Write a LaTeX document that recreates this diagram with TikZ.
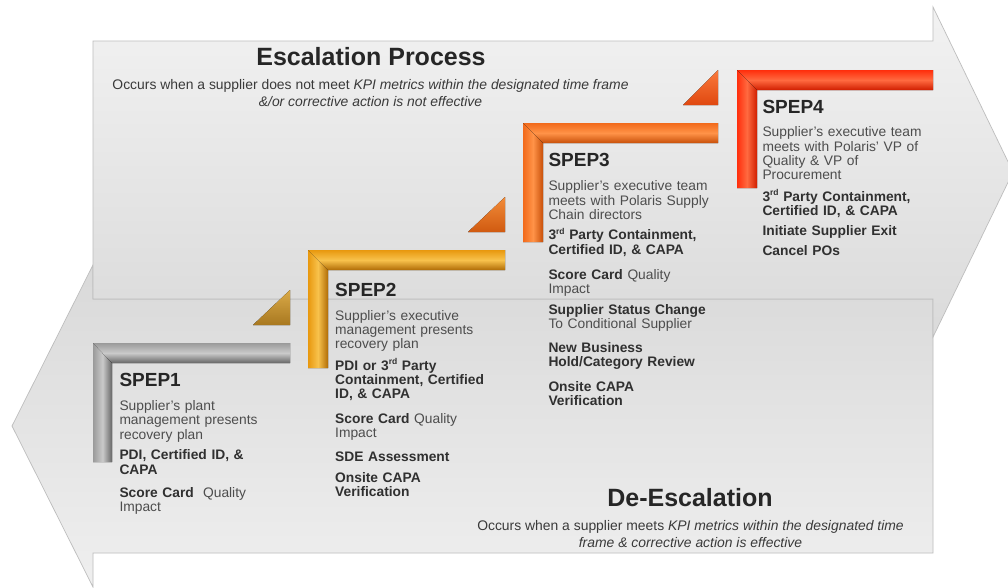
\documentclass[tikz,border=0pt]{standalone}
\usepackage{fontspec}
\setmainfont{Liberation Sans}
\definecolor{titletxt}{HTML}{262626}
\definecolor{subtxt}{HTML}{3A3A3A}
\definecolor{bodytxt}{HTML}{4D4D4D}
\definecolor{boldtxt}{HTML}{303030}
\definecolor{uptop}{HTML}{F2F2F2}
\definecolor{upbot}{HTML}{DADADA}
\definecolor{lowtop}{HTML}{D9D9D9}
\definecolor{lowbot}{HTML}{EFEFEF}
\definecolor{edge}{HTML}{BDBDBD}
\definecolor{gmain}{HTML}{9A9A9A}
\definecolor{glight}{HTML}{CACACA}
\definecolor{gdark}{HTML}{666666}
\definecolor{ymain}{HTML}{E8980E}
\definecolor{ylight}{HTML}{F8C24C}
\definecolor{ydark}{HTML}{B06C06}
\definecolor{omain}{HTML}{F26A1B}
\definecolor{olight}{HTML}{FF9348}
\definecolor{odark}{HTML}{C8500A}
\definecolor{rmain}{HTML}{FF2E0C}
\definecolor{rlight}{HTML}{FF6A40}
\definecolor{rdark}{HTML}{D01E00}
\definecolor{tonetop}{HTML}{DAAA48}
\definecolor{tonebot}{HTML}{A87820}
\definecolor{ttwotop}{HTML}{F28C3A}
\definecolor{ttwobot}{HTML}{D05A10}
\definecolor{tthrtop}{HTML}{FA7A3C}
\definecolor{tthrbot}{HTML}{E04810}
\newcommand\bb[1]{{\bfseries\color{boldtxt}#1}}
\newcommand\steptitle[1]{{\fontsize{19}{20}\selectfont\bfseries\color{titletxt}#1}}
\newcommand\ord[1]{\raisebox{0.42em}{\fontsize{8.5}{9}\selectfont #1}}
\begin{document}
\begin{tikzpicture}[x=1pt,y=-1pt,
  arrowbg/.style={draw=edge, line width=0.7pt},
  hbar/.style n args={3}{top color=#1, bottom color=#3, middle color=#2},
  vbar/.style n args={3}{left color=#1, right color=#3, middle color=#2},
  stepbody/.style={anchor=north west, inner sep=0pt, align=left, text width=220pt,
    font=\fontsize{13.8}{14.3}\selectfont, text=bodytxt},
  bigtitle/.style={anchor=base, inner sep=0pt, font=\fontsize{25}{30}\selectfont\bfseries, text=titletxt},
  subtitle/.style={anchor=north, inner sep=0pt, align=center, font=\fontsize{13.9}{16.7}\selectfont, text=subtxt}
]
\useasboundingbox (0,0) rectangle (1008,587);
\fill[white] (0,0) rectangle (1008,587);
\clip (0,0) rectangle (1008,587);

% lower (de-escalation) arrow
\draw[arrowbg, top color=lowtop, bottom color=lowbot]
  (93,299) -- (933,299) -- (933,553) -- (93,553) -- (93,587) -- (12,426) -- (93,265) -- cycle;
% upper (escalation) arrow
\draw[arrowbg, top color=uptop, bottom color=upbot]
  (93,41) -- (933,41) -- (933,7) -- (1013,172) -- (933,337) -- (933,299) -- (93,299) -- cycle;

% ramps
\fill[top color=tonetop, bottom color=tonebot] (253,325) -- (290,325) -- (290,290) -- cycle;
\fill[top color=ttwotop, bottom color=ttwobot] (468,232) -- (505,232) -- (505,197) -- cycle;
\fill[top color=tthrtop, bottom color=tthrbot] (683,105) -- (718,105) -- (718,70) -- cycle;

% SPEP1 bracket
\fill[vbar={gmain}{glight}{gdark}] (93,343) -- (112,363) -- (112,462) -- (93,462) -- cycle;
\fill[hbar={gmain}{glight}{gdark}] (93,343) -- (290,343) -- (290,363) -- (112,363) -- cycle;
% SPEP2 bracket
\fill[vbar={ymain}{ylight}{ydark}] (308,250) -- (328,270) -- (328,368) -- (308,368) -- cycle;
\fill[hbar={ymain}{ylight}{ydark}] (308,250) -- (505,250) -- (505,270) -- (328,270) -- cycle;
% SPEP3 bracket
\fill[vbar={omain}{olight}{odark}] (523,123) -- (543,143) -- (543,242) -- (523,242) -- cycle;
\fill[hbar={omain}{olight}{odark}] (523,123) -- (718,123) -- (718,143) -- (543,143) -- cycle;
% SPEP4 bracket
\fill[vbar={rmain}{rlight}{rdark}] (737,70) -- (757,90) -- (757,188) -- (737,188) -- cycle;
\fill[hbar={rmain}{rlight}{rdark}] (737,70) -- (933,70) -- (933,90) -- (757,90) -- cycle;

% titles
\node[bigtitle] (esc) at (371,65) {Escalation Process};
\node[subtitle] (escsub) at (370.5,79.2) {Occurs when a supplier does not meet \textit{KPI metrics within the designated time frame}\\ \textit{\&/or corrective action is not effective}};
\node[bigtitle] (desc) at (690,506.7) {De-Escalation};
\node[subtitle] (descsub) at (690.5,520.6) {Occurs when a supplier meets \textit{KPI metrics within the designated time}\\ \textit{frame \& corrective action is effective}};

% step texts
\node[stepbody] (s1) at (119.3,373.3) {\steptitle{SPEP1}\\[9.5pt]
Supplier's plant\\ management presents\\ recovery plan\\[6.5pt]
\bb{PDI, Certified ID, \&}\\ \bb{CAPA}\\[8.8pt]
\bb{Score Card}\ \ Quality\\ Impact};

\node[stepbody] (s2) at (335,283.3) {\steptitle{SPEP2}\\[9pt]
Supplier's executive\\ management presents\\ recovery plan\\[5.7pt]
\bb{PDI or 3\ord{rd} Party}\\ \bb{Containment, Certified}\\ \bb{ID, \& CAPA}\\[10pt]
\bb{Score Card} Quality\\ Impact\\[9.7pt]
\bb{SDE Assessment}\\[6.7pt]
\bb{Onsite CAPA}\\ \bb{Verification}};

\node[stepbody] (s3) at (548.3,153.5) {\steptitle{SPEP3}\\[9.7pt]
Supplier's executive team\\ meets with Polaris Supply\\ Chain directors\\[6pt]
\bb{3\ord{rd} Party Containment,}\\ \bb{Certified ID, \& CAPA}\\[10.7pt]
\bb{Score Card} Quality\\ Impact\\[6.3pt]
\bb{Supplier Status Change}\\ To Conditional Supplier\\[9.7pt]
\bb{New Business}\\ \bb{Hold/Category Review}\\[10.4pt]
\bb{Onsite CAPA}\\ \bb{Verification}};

\node[stepbody] (s4) at (762.3,100) {\steptitle{SPEP4}\\[9.1pt]
Supplier's executive team\\ meets with Polaris' VP of\\ Quality \& VP of\\ Procurement\\[7.4pt]
\bb{3\ord{rd} Party Containment,}\\ \bb{Certified ID, \& CAPA}\\[5.4pt]
\bb{Initiate Supplier Exit}\\[5.7pt]
\bb{Cancel POs}};
\end{tikzpicture}
\end{document}
